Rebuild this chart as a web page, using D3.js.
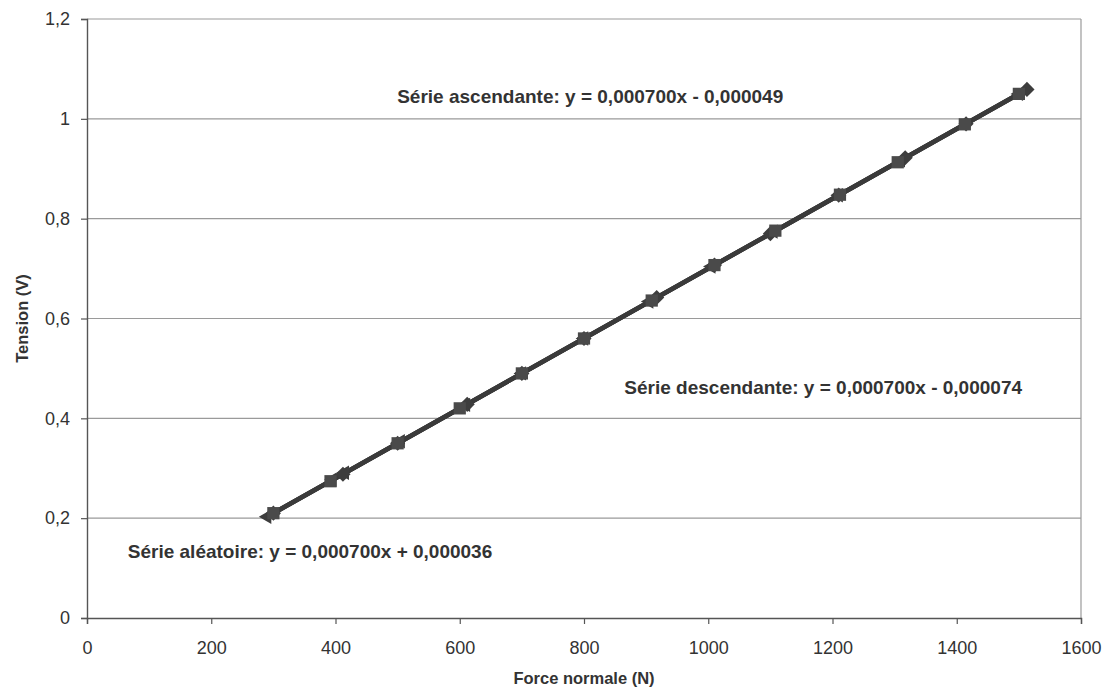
<!DOCTYPE html>
<html>
<head>
<meta charset="utf-8">
<script src="https://cdn.jsdelivr.net/npm/d3@7"></script>
<style>
  html, body { margin: 0; padding: 0; background: #fff; }
  svg { display: block; font-family: "Liberation Sans", Arial, sans-serif; }
</style>
</head>
<body>
<svg id="chart" width="1110" height="694"></svg>
<script>
// Calibration runs: force applied (N) vs. measured voltage (V)
const ascForce  = [300, 412, 500, 612, 700, 800, 917, 1010, 1100, 1210, 1317, 1415, 1513];
const ascVolt   = [0.21, 0.288, 0.35, 0.428, 0.49, 0.56, 0.642, 0.707, 0.77, 0.847, 0.922, 0.99, 1.059];
const descForce = [1500, 1413, 1305, 1212, 1108, 1010, 909, 800, 700, 600, 500, 392, 300];
const descVolt  = [1.05, 0.989, 0.913, 0.848, 0.776, 0.707, 0.636, 0.56, 0.49, 0.42, 0.35, 0.274, 0.21];
const randForce = [290, 1005, 610, 1105, 415, 1310, 800, 1500, 505, 905, 700, 1210, 395];
const randVolt  = [0.203, 0.704, 0.427, 0.774, 0.291, 0.917, 0.56, 1.05, 0.354, 0.634, 0.49, 0.847, 0.277];

// Linear fits (slope, intercept) and their printed equations
const fitSlope     = [0.000700, 0.000700, 0.000700];
const fitIntercept = [-0.000049, -0.000074, 0.000036];
const fitLabels = [
  "Série ascendante: y = 0,000700x - 0,000049",
  "Série descendante: y = 0,000700x - 0,000074",
  "Série aléatoire: y = 0,000700x + 0,000036"
];
const fitLabelPos = [[810, 1.044], [1185, 0.461], [359, 0.134]]; // label centres in data units

const xTicks = [0, 200, 400, 600, 800, 1000, 1200, 1400, 1600];
const yTicks = [0, 0.2, 0.4, 0.6, 0.8, 1, 1.2];

const svg = d3.select("#chart");
const m = { left: 87, right: 1081, top: 19, bottom: 618 };

const x = d3.scaleLinear().domain([0, 1600]).range([m.left, m.right]);
const y = d3.scaleLinear().domain([0, 1.2]).range([m.bottom, m.top]);
const fmt = v => d3.format("~g")(v).replace(".", ",");

// Horizontal gridlines
svg.append("g")
  .selectAll("line")
  .data(yTicks.filter(v => v > 0))
  .join("line")
  .attr("x1", m.left).attr("x2", m.right)
  .attr("y1", d => y(d)).attr("y2", d => y(d))
  .attr("stroke", "#9a9a9a").attr("stroke-width", 1.2);

// Right border of plot area
svg.append("line")
  .attr("x1", m.right).attr("x2", m.right)
  .attr("y1", m.top).attr("y2", m.bottom)
  .attr("stroke", "#9a9a9a").attr("stroke-width", 1.2);

// Axes
const xAxis = svg.append("g")
  .attr("transform", `translate(0,${m.bottom})`)
  .call(d3.axisBottom(x).tickValues(xTicks).tickSize(6).tickPadding(17).tickFormat(d3.format("d")));
const yAxis = svg.append("g")
  .attr("transform", `translate(${m.left},0)`)
  .call(d3.axisLeft(y).tickValues(yTicks).tickSize(6).tickPadding(11).tickFormat(fmt));

[xAxis, yAxis].forEach(g => {
  g.select(".domain").attr("stroke", "#555").attr("stroke-width", 1.4);
  g.selectAll(".tick line").attr("stroke", "#555").attr("stroke-width", 1.2);
  g.selectAll(".tick text").attr("fill", "#333").attr("font-size", 18)
    .attr("font-family", "'Liberation Sans', Arial, sans-serif");
});

// Axis titles
svg.append("text")
  .attr("x", 584).attr("y", 684)
  .attr("text-anchor", "middle")
  .attr("font-weight", "bold").attr("font-size", 16.5).attr("fill", "#333")
  .text("Force normale (N)");
svg.append("text")
  .attr("transform", `translate(28,${(m.top + m.bottom) / 2}) rotate(-90)`)
  .attr("text-anchor", "middle")
  .attr("font-weight", "bold").attr("font-size", 16.5).attr("fill", "#333")
  .text("Tension (V)");

// Trendlines, each over its own series' force range
const series = [
  { xs: ascForce,  ys: ascVolt },
  { xs: descForce, ys: descVolt },
  { xs: randForce, ys: randVolt }
];
const trend = svg.append("g");
series.forEach((s, i) => {
  const [x0, x1] = d3.extent(s.xs);
  trend.append("line")
    .attr("x1", x(x0)).attr("y1", y(fitSlope[i] * x0 + fitIntercept[i]))
    .attr("x2", x(x1)).attr("y2", y(fitSlope[i] * x1 + fitIntercept[i]))
    .attr("stroke", "#3a3a3a").attr("stroke-width", 4.5).attr("stroke-linecap", "butt");
});

// Markers: triangles (random), diamonds (ascending), squares (descending)
const markerFill = "#3d3d3d";
const sym = (type, size) => d3.symbol().type(type).size(size)();
const pts = (xs, ys) => xs.map((v, i) => [v, ys[i]]);

svg.append("g").selectAll("path")
  .data(pts(randForce, randVolt)).join("path")
  .attr("transform", d => `translate(${x(d[0])},${y(d[1])}) rotate(-90)`)
  .attr("d", sym(d3.symbolTriangle, 90))
  .attr("fill", markerFill);

// Diamonds: squares turned 45°
svg.append("g").selectAll("path")
  .data(pts(ascForce, ascVolt)).join("path")
  .attr("transform", d => `translate(${x(d[0])},${y(d[1])}) rotate(45)`)
  .attr("d", sym(d3.symbolSquare, 115))
  .attr("fill", markerFill);

svg.append("g").selectAll("path")
  .data(pts(descForce, descVolt)).join("path")
  .attr("transform", d => `translate(${x(d[0])},${y(d[1])})`)
  .attr("d", sym(d3.symbolSquare, 150))
  .attr("fill", "#4a4a4a");

// Fit equations
svg.append("g").selectAll("text")
  .data(fitLabels).join("text")
  .attr("x", (d, i) => x(fitLabelPos[i][0]))
  .attr("y", (d, i) => y(fitLabelPos[i][1]))
  .attr("text-anchor", "middle")
  .attr("dominant-baseline", "central")
  .attr("font-weight", "bold").attr("font-size", 19).attr("fill", "#333")
  .text(d => d);
</script>
</body>
</html>
